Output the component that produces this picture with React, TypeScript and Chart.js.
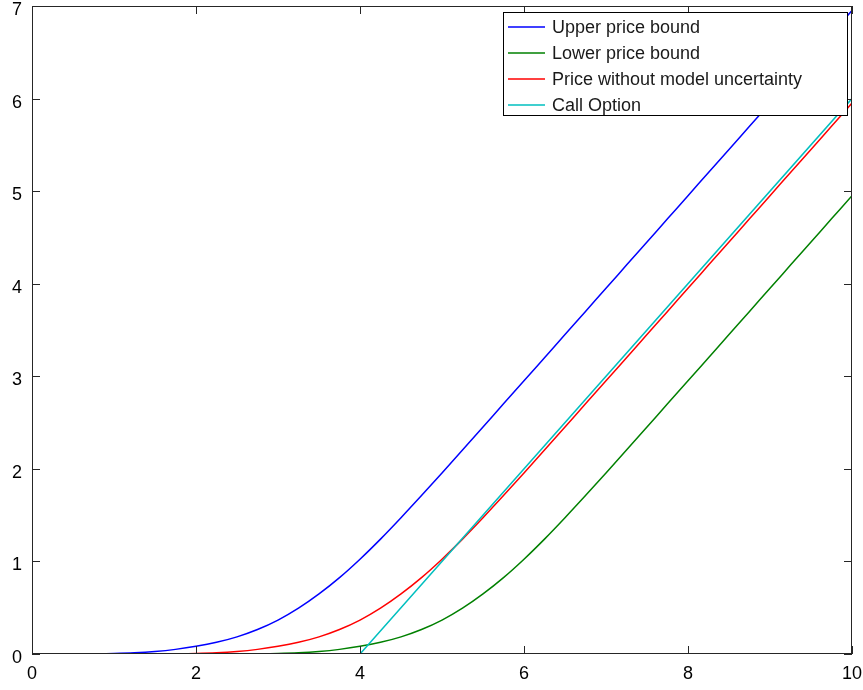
import { useEffect, useRef } from "react";
import { Chart, registerables } from "chart.js";

Chart.register(...registerables);

const spotPrices = [
  0, 0.25, 0.5, 0.75, 1, 1.25, 1.5, 1.75, 2, 2.25, 2.5, 2.75, 3, 3.25, 3.5, 3.75, 4, 4.25, 4.5, 4.75, 5,
  5.25, 5.5, 5.75, 6, 6.25, 6.5, 6.75, 7, 7.25, 7.5, 7.75, 8, 8.25, 8.5, 8.75, 9, 9.25, 9.5, 9.75, 10,
];
const upperPriceBound = [
  0, 0, 0.001, 0.002, 0.005, 0.0125, 0.027, 0.05, 0.0825, 0.126, 0.185, 0.264, 0.366, 0.495, 0.649, 0.825, 1.024,
  1.241, 1.472, 1.711, 1.956, 2.203, 2.452, 2.702, 2.951, 3.201, 3.451, 3.701, 3.951, 4.201, 4.451, 4.701, 4.951,
  5.201, 5.451, 5.701, 5.951, 6.201, 6.451, 6.701, 6.951,
];
const lowerPriceBound = [
  0, 0, 0, 0, 0, 0, 0, 0, 0, 0, 0.001, 0.002, 0.005, 0.0125, 0.027, 0.05, 0.0825, 0.126, 0.185, 0.264, 0.366,
  0.495, 0.649, 0.825, 1.024, 1.241, 1.472, 1.711, 1.956, 2.203, 2.452, 2.702, 2.951, 3.201, 3.451, 3.701, 3.951,
  4.201, 4.451, 4.701, 4.951,
];
const priceWithoutUncertainty = [
  0, 0, 0, 0, 0, 0, 0.001, 0.002, 0.005, 0.0125, 0.027, 0.05, 0.0825, 0.126, 0.185, 0.264, 0.366, 0.495, 0.649,
  0.825, 1.024, 1.241, 1.472, 1.711, 1.956, 2.203, 2.452, 2.702, 2.951, 3.201, 3.451, 3.701, 3.951, 4.201, 4.451,
  4.701, 4.951, 5.201, 5.451, 5.701, 5.951,
];
const callOptionSpots = [0, 4, 10];
const callOptionPayoff = [0, 0, 6];

const seriesLabels = ["Upper price bound", "Lower price bound", "Price without model uncertainty", "Call Option"];
const seriesColors = ["#0000ff", "#008000", "#ff0000", "#00bfbf"];

const FONT_FAMILY = '"Liberation Sans", Arial, Helvetica, sans-serif';

const toPoints = (xs: number[], ys: number[]) => xs.map((x, i) => ({ x, y: ys[i] }));

const octaveFrame = {
  id: "octaveFrame",
  afterDatasetsDraw(chart: any) {
    const { ctx, chartArea, scales } = chart;
    const { left, right, top, bottom } = chartArea;
    ctx.save();
    ctx.strokeStyle = "#262626";
    ctx.lineWidth = 1;
    ctx.strokeRect(left + 0.5, top + 0.5, right - left - 1, bottom - top - 1);
    const tl = 8;
    ctx.beginPath();
    scales.x.ticks.forEach((t: any) => {
      const px = Math.round(scales.x.getPixelForValue(t.value)) + 0.5;
      ctx.moveTo(px, bottom);
      ctx.lineTo(px, bottom - tl);
      ctx.moveTo(px, top);
      ctx.lineTo(px, top + tl);
    });
    scales.y.ticks.forEach((t: any) => {
      const py = Math.round(scales.y.getPixelForValue(t.value)) + 0.5;
      ctx.moveTo(left, py);
      ctx.lineTo(left + tl, py);
      ctx.moveTo(right, py);
      ctx.lineTo(right - tl, py);
    });
    ctx.stroke();

    // legend
    const boxRight = right - 5;
    const boxLeft = boxRight - 344;
    const boxTop = top + 6;
    const boxH = 103;
    ctx.fillStyle = "#ffffff";
    ctx.fillRect(boxLeft, boxTop, boxRight - boxLeft, boxH);
    ctx.strokeStyle = "#000000";
    ctx.strokeRect(boxLeft + 0.5, boxTop + 0.5, boxRight - boxLeft, boxH);
    ctx.font = "18px " + FONT_FAMILY;
    ctx.textBaseline = "middle";
    ctx.textAlign = "left";
    chart.data.datasets.forEach((ds: any, i: number) => {
      const y = boxTop + 15 + i * 26;
      ctx.strokeStyle = ds.borderColor;
      ctx.lineWidth = 1.5;
      ctx.beginPath();
      ctx.moveTo(boxLeft + 5, y);
      ctx.lineTo(boxLeft + 42, y);
      ctx.stroke();
      ctx.fillStyle = "#1a1a1a";
      ctx.fillText(ds.label, boxLeft + 49, y + 1);
    });
    ctx.restore();
  },
};

export default function App() {
  const canvasRef = useRef<HTMLCanvasElement | null>(null);

  useEffect(() => {
    document.body.style.margin = "0";
    const canvas = canvasRef.current;
    if (!canvas) return;
    const curves = [upperPriceBound, lowerPriceBound, priceWithoutUncertainty];
    const datasets: any[] = curves.map((ys, i) => ({
      label: seriesLabels[i],
      data: toPoints(spotPrices, ys),
      borderColor: seriesColors[i],
      backgroundColor: seriesColors[i],
      borderWidth: 1.5,
      pointRadius: 0,
      cubicInterpolationMode: "monotone",
      fill: false,
      order: 4 - i,
    }));
    datasets.push({
      label: seriesLabels[3],
      data: toPoints(callOptionSpots, callOptionPayoff),
      borderColor: seriesColors[3],
      backgroundColor: seriesColors[3],
      borderWidth: 1.5,
      pointRadius: 0,
      tension: 0,
      fill: false,
      order: 1,
    });

    const chart = new Chart(canvas, {
      type: "line",
      data: { datasets },
      plugins: [octaveFrame],
      options: {
        animation: false,
        responsive: false,
        maintainAspectRatio: false,
        layout: { padding: { top: 6, right: 11, left: 0, bottom: 0 } },
        plugins: { legend: { display: false }, tooltip: { enabled: false } },
        scales: {
          x: {
            type: "linear",
            min: 0,
            max: 10,
            grid: { display: false, drawTicks: false },
            border: { display: false },
            ticks: {
              stepSize: 2,
              color: "#000",
              padding: 9,
              maxRotation: 0,
              font: { size: 18, family: FONT_FAMILY },
            },
            afterFit: (s: any) => {
              s.height = 36;
              s.paddingLeft = 0;
              s.paddingRight = 0;
            },
          },
          y: {
            type: "linear",
            min: 0,
            max: 7,
            grid: { display: false, drawTicks: false },
            border: { display: false },
            ticks: {
              stepSize: 1,
              color: "#000",
              padding: 10,
              labelOffset: 4,
              font: { size: 18, family: FONT_FAMILY },
            },
            afterFit: (s: any) => {
              s.width = 32;
              s.paddingTop = 0;
              s.paddingBottom = 0;
            },
          },
        },
      } as any,
    });
    return () => chart.destroy();
  }, []);

  return (
    <div style={{ width: 863, height: 690 }}>
      <canvas ref={canvasRef} width={863} height={690} style={{ display: "block", width: 863, height: 690 }} />
    </div>
  );
}
